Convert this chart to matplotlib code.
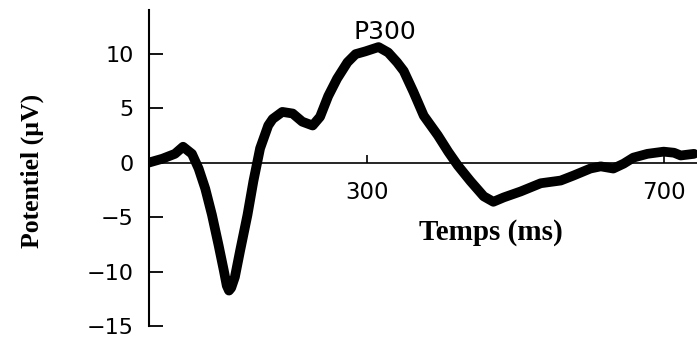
import matplotlib.pyplot as plt
import numpy as np

# ERP trace (ms, µV)
temps = [5, 23, 40, 51, 63, 72, 81, 90, 99, 106, 110, 113, 116, 121, 128, 138, 146, 155, 166, 172,
         185, 199, 212, 226, 236, 247, 259, 273, 284, 297, 315, 328, 340, 349, 362, 376, 395, 409,
         422, 439, 457, 470, 484, 507, 534, 561, 578, 601, 615, 632, 646, 659, 678, 700, 714, 723, 741]
potentiel = [0.0, 0.35, 0.8, 1.45, 0.8, -0.55, -2.4, -4.8, -7.6, -9.9, -11.3, -11.75, -11.5, -10.5,
             -8.1, -4.8, -1.7, 1.3, 3.4, 4.0, 4.65, 4.5, 3.75, 3.4, 4.2, 6.1, 7.7, 9.2, 9.95, 10.2, 10.6,
             10.1, 9.2, 8.4, 6.5, 4.3, 2.5, 1.0, -0.27, -1.7, -3.1, -3.6, -3.2, -2.65, -1.9, -1.65,
             -1.2, -0.55, -0.35, -0.55, -0.1, 0.45, 0.8, 1.0, 0.9, 0.65, 0.8]
yticks = [10, 5, 0, -5, -10, -15]
xticks = [300, 700]

plt.rcParams['font.family'] = ['DejaVu Sans']

fig = plt.figure(figsize=(6.97, 3.38), dpi=100)
ax = fig.add_axes([149/697, 12/338, 1 - 149/697, 316/338])

ax.plot(temps, potentiel, color='black', lw=7, solid_capstyle='round', solid_joinstyle='round')

ax.set_xlim(5, 745)
ax.set_ylim(-15, 14)

for s in ['top', 'right']:
    ax.spines[s].set_visible(False)
ax.spines['bottom'].set_position(('data', 0))
ax.spines['bottom'].set_linewidth(1.2)
ax.spines['left'].set_linewidth(1.5)

ax.set_yticks(yticks)
ax.set_xticks(xticks)
ax.tick_params(axis='y', direction='in', length=10, width=1.3, pad=11, labelsize=16)
ax.tick_params(axis='x', direction='in', length=6, width=1.2, pad=13, labelsize=16.5)

ax.text(323, 12.0, 'P300', ha='center', va='center', fontsize=18)

fig.text(491/697, 1 - 233/338, 'Temps (ms)', ha='center', va='center',
         fontsize=21, fontweight='bold', family='Liberation Serif')
fig.text(32/697, 1 - 171/338, 'Potentiel (µV)', ha='center', va='center', rotation=90,
         fontsize=18.5, fontweight='bold', family='Liberation Serif')

fig.savefig('out.png', dpi=100)
